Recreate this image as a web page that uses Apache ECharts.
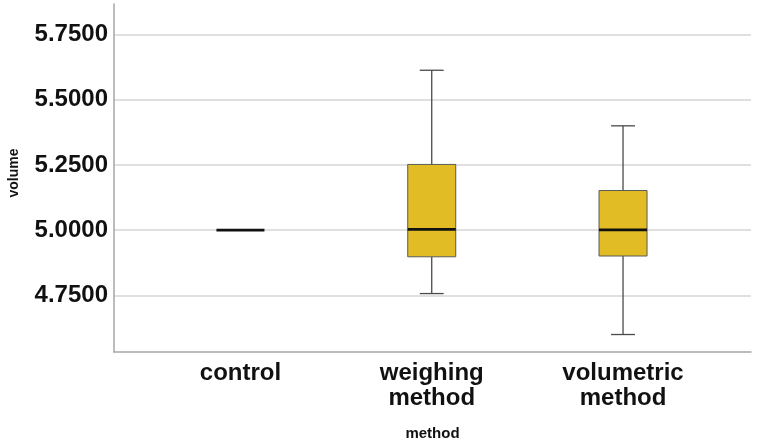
<!DOCTYPE html>
<html>
<head>
<meta charset="utf-8">
<script src="https://cdn.jsdelivr.net/npm/echarts@6/dist/echarts.min.js"></script>
<style>
  html, body { margin: 0; padding: 0; background: #fff; }
  #chart { width: 757px; height: 446px; }
</style>
</head>
<body>
<div id="chart"></div>
<script>
const categories = ["control", "weighing\nmethod", "volumetric\nmethod"];
const lowWhisker = [5.0, 4.757, 4.600];
const lowerQuartile = [5.0, 4.898, 4.901];
const median = [5.0, 5.003, 5.001];
const upperQuartile = [5.0, 5.252, 5.152];
const highWhisker = [5.0, 5.613, 5.400];
const yTicks = [4.75, 5.0, 5.25, 5.5, 5.75];

const FONT = "'Liberation Sans', Arial, sans-serif";
const BOX_WIDTH = 0.251; // in category units
const CAP_WIDTH = 0.125;

const rows = categories.map((c, i) => [
  i, lowWhisker[i], lowerQuartile[i], median[i], upperQuartile[i], highWhisker[i],
]);

const renderBox = (params, api) => {
  const x = api.value(0);
  const pLow = api.coord([x, api.value(1)]);
  const pQ1 = api.coord([x, api.value(2)]);
  const pMed = api.coord([x, api.value(3)]);
  const pQ3 = api.coord([x, api.value(4)]);
  const pHigh = api.coord([x, api.value(5)]);
  const halfBox = api.size([BOX_WIDTH, 0])[0] / 2;
  const halfCap = api.size([CAP_WIDTH, 0])[0] / 2;
  const cx = pMed[0];
  const collapsed = api.value(1) === api.value(5);
  const whiskerStyle = { stroke: "#4a4a4a", lineWidth: 1.3 };

  const children = [];
  if (!collapsed) {
    children.push(
      { type: "line", shape: { x1: cx, y1: pHigh[1], x2: cx, y2: pQ3[1] }, style: whiskerStyle },
      { type: "line", shape: { x1: cx, y1: pQ1[1], x2: cx, y2: pLow[1] }, style: whiskerStyle },
      { type: "line", shape: { x1: cx - halfCap, y1: pHigh[1], x2: cx + halfCap, y2: pHigh[1] }, style: whiskerStyle },
      { type: "line", shape: { x1: cx - halfCap, y1: pLow[1], x2: cx + halfCap, y2: pLow[1] }, style: whiskerStyle },
      {
        type: "rect",
        shape: { x: cx - halfBox, y: pQ3[1], width: halfBox * 2, height: pQ1[1] - pQ3[1] },
        style: { fill: "#e1bc24", stroke: "#5a5a5a", lineWidth: 1 },
      }
    );
  }
  children.push({
    type: "line",
    shape: { x1: cx - halfBox, y1: pMed[1], x2: cx + halfBox, y2: pMed[1] },
    style: { stroke: "#111", lineWidth: 2.6 },
  });
  return { type: "group", children };
};

const chart = echarts.init(document.getElementById("chart"));
chart.setOption({
  backgroundColor: "#fff",
  animation: false,
  grid: { left: 114, right: 6, top: 4, bottom: 94, containLabel: false, outerBoundsMode: "none" },
  xAxis: {
    type: "value",
    min: -0.661,
    max: 2.669,
    name: "method",
    nameLocation: "middle",
    nameGap: 74,
    nameTextStyle: { fontFamily: FONT, fontWeight: "bold", fontSize: 15, color: "#111" },
    axisLine: { show: true, onZero: false, lineStyle: { color: "#a6a6a6", width: 1.5 } },
    axisTick: { show: false, customValues: [0, 1, 2] },
    splitLine: { show: false },
    axisLabel: {
      customValues: [0, 1, 2],
      formatter: (v) => categories[Math.round(v)],
      margin: 9,
      fontFamily: FONT,
      fontWeight: "bold",
      fontSize: 24,
      lineHeight: 25,
      color: "#111",
    },
  },
  yAxis: {
    type: "value",
    min: 4.533,
    max: 5.867,
    name: "volume",
    nameLocation: "middle",
    nameRotate: 90,
    nameGap: 93,
    nameTextStyle: { fontFamily: FONT, fontWeight: "bold", fontSize: 14, color: "#111", padding: [0, 0, 0, 10] },
    axisLine: { show: true, onZero: false, lineStyle: { color: "#a6a6a6", width: 1.5 } },
    axisTick: { show: false, customValues: yTicks },
    splitLine: { show: true, lineStyle: { color: "#d6d6d6", width: 1.5 } },
    axisLabel: {
      customValues: yTicks,
      formatter: (v) => v.toFixed(4),
      margin: 6,
      fontFamily: FONT,
      fontWeight: "bold",
      fontSize: 24,
      color: "#111",
    },
  },
  series: [
    {
      type: "custom",
      renderItem: renderBox,
      data: rows,
      encode: { x: 0, y: [1, 2, 3, 4, 5] },
      clip: false,
    },
  ],
});
</script>
</body>
</html>
